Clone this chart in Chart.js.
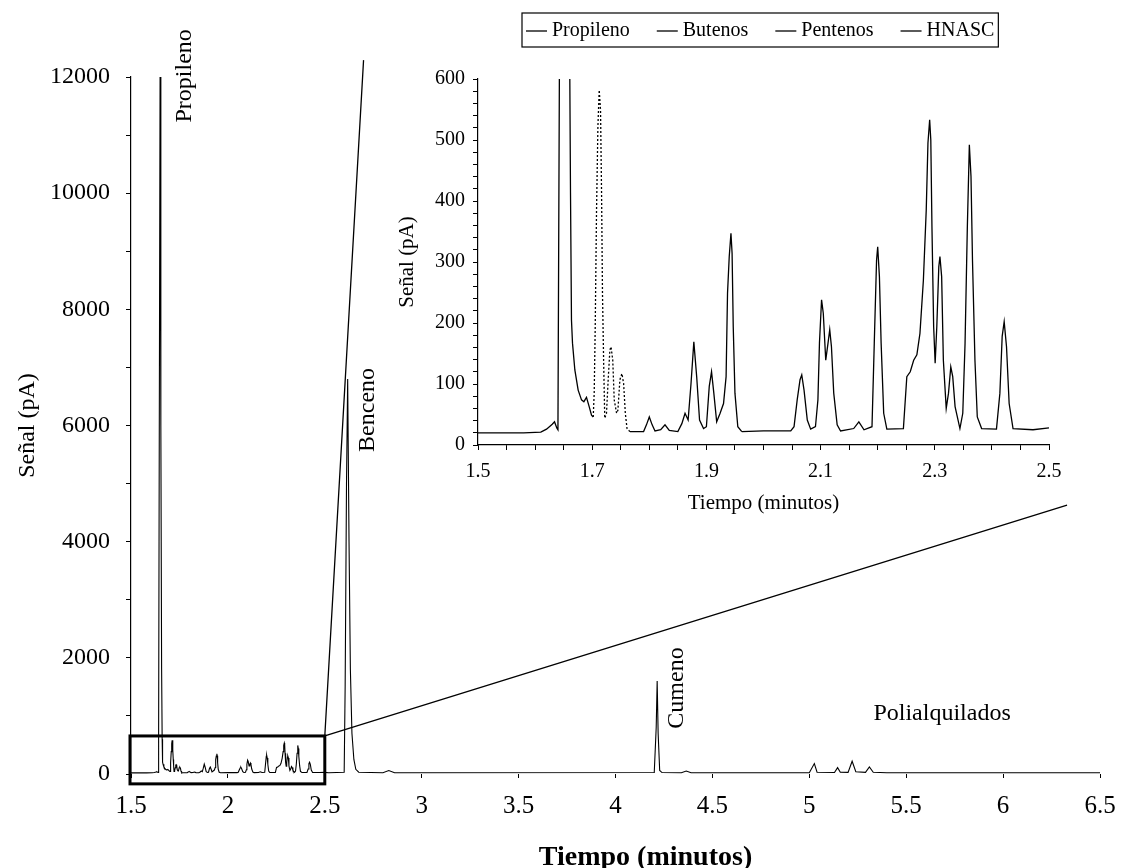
<!DOCTYPE html>
<html lang="es">
<head>
  <meta charset="UTF-8" />
  <title>Cromatograma</title>
  <script src="https://cdn.jsdelivr.net/npm/chart.js"></script>
  <style>
    * { margin: 0; padding: 0; box-sizing: border-box; }
    body { background: #fff; width: 1133px; height: 868px; overflow: hidden; }
    .lienzo { position: relative; width: 1133px; height: 868px; }
    #principal { position: absolute; left: 0; top: 0; }
    #detalle { position: absolute; left: 380px; top: 0; }
  </style>
</head>
<body>
  <div class="lienzo">
    <canvas id="principal" width="1133" height="868"></canvas>
    <canvas id="detalle" width="700" height="540"></canvas>
  </div>

  <script>
    const propilenoTiempo = [1.50, 1.58, 1.61, 1.62, 1.63, 1.634, 1.638, 1.640, 1.6425, 1.646, 1.650, 1.654, 1.658, 1.6608, 1.662, 1.6637, 1.6655, 1.6696, 1.6754, 1.6813, 1.6854, 1.690, 1.6947, 1.6988, 1.7018];
    const propilenoSenal = [20, 20, 21, 26, 34, 38, 28, 25, 600, 6000, 12000, 6000, 1800, 600, 413, 205, 167, 123, 90, 74, 71, 78, 63, 49, 46];

    const butenosTiempo = [1.7018, 1.7035, 1.7053, 1.7076, 1.710, 1.7123, 1.7146, 1.7164, 1.718, 1.720, 1.722, 1.725, 1.728, 1.731, 1.733, 1.736, 1.7386, 1.7427, 1.745, 1.7485, 1.752, 1.755, 1.758, 1.761, 1.766];
    const butenosSenal = [46, 85, 194, 385, 522, 582, 549, 413, 249, 139, 44, 52, 107, 156, 161, 139, 74, 52, 57, 107, 117, 101, 52, 27, 22];

    const pentenosTiempo = [1.766, 1.79, 1.795, 1.80, 1.805, 1.81, 1.82, 1.8275, 1.835, 1.85, 1.857, 1.8626, 1.868, 1.873, 1.878, 1.883, 1.888, 1.895, 1.90, 1.905, 1.909, 1.913, 1.918, 1.924, 1.93, 1.9345, 1.937, 1.940, 1.943, 1.945, 1.947, 1.950, 1.955, 1.962];
    const pentenosSenal = [22, 22, 33, 46, 33, 23, 25, 33, 24, 22, 35, 52, 41, 100, 169, 112, 41, 27, 30, 96, 120, 85, 38, 52, 68, 112, 249, 309, 347, 314, 194, 85, 30, 22];

    const hnascTiempo = [1.962, 2.0, 2.0477, 2.0535, 2.059, 2.064, 2.067, 2.071, 2.0767, 2.0826, 2.091, 2.0953, 2.098, 2.1017, 2.1047, 2.109, 2.113, 2.116, 2.119, 2.123, 2.129, 2.135, 2.158, 2.167, 2.176, 2.19, 2.194, 2.198, 2.20, 2.203, 2.206, 2.2105, 2.216, 2.245, 2.251, 2.257, 2.263, 2.2686, 2.274, 2.28, 2.285, 2.288, 2.291, 2.293, 2.295, 2.298, 2.3006, 2.3035, 2.307, 2.309, 2.312, 2.315, 2.32, 2.324, 2.328, 2.3314, 2.3355, 2.344, 2.349, 2.353, 2.357, 2.3605, 2.3634, 2.366, 2.3703, 2.3744, 2.382, 2.408, 2.414, 2.418, 2.4215, 2.4256, 2.4302, 2.437, 2.472, 2.5];
    const hnascSenal = [22, 23, 23, 30, 74, 107, 115, 90, 41, 26, 30, 74, 167, 238, 216, 139, 167, 189, 161, 85, 33, 23, 27, 38, 25, 30, 167, 303, 325, 276, 167, 52, 26, 27, 112, 120, 139, 148, 183, 270, 385, 495, 533, 500, 358, 194, 134, 194, 292, 309, 276, 139, 60, 85, 128, 112, 63, 27, 52, 167, 358, 492, 440, 303, 139, 46, 27, 26, 85, 178, 202, 161, 68, 27, 25, 28];

    // resto del cromatograma (benceno, cumeno, polialquilados)
    const restoTiempo = [2.52, 2.600, 2.605, 2.612, 2.618, 2.625, 2.632, 2.640, 2.650, 2.660, 2.675, 2.80, 2.83, 2.86, 4.20, 4.21, 4.215, 4.22, 4.228, 4.24, 4.34, 4.365, 4.39, 5.00, 5.026, 5.04, 5.13, 5.146, 5.16, 5.20, 5.221, 5.24, 5.29, 5.31, 5.33, 5.40, 6.50];
    const restoSenal = [22, 30, 1500, 5000, 6800, 4000, 1800, 700, 250, 80, 30, 22, 60, 22, 25, 800, 1600, 700, 60, 25, 22, 50, 22, 22, 180, 30, 25, 110, 30, 28, 220, 40, 28, 120, 30, 22, 22];

    const etiquetasPicos = ['Propileno', 'Benceno', 'Cumeno', 'Polialquilados'];
    const tituloTiempo = 'Tiempo (minutos)';

    const serif = 'Liberation Serif, Times New Roman, serif';
    const puntos = (t, s) => t.map((v, i) => ({ x: v, y: s[i] }));

    // --- cromatograma completo ---
    const todoTiempo = [].concat(propilenoTiempo, butenosTiempo.slice(1), pentenosTiempo.slice(1), hnascTiempo.slice(1), restoTiempo);
    const todoSenal = [].concat(propilenoSenal, butenosSenal.slice(1), pentenosSenal.slice(1), hnascSenal.slice(1), restoSenal);

    // posición de los rótulos (en unidades de los ejes)
    const rotulos = [
      { x: 1.779, y: 12020, giro: -90 },
      { x: 2.723, y: 6268, giro: -90 },
      { x: 4.317, y: 1481, giro: -90 },
      { x: 5.685, y: 1033, giro: 0 },
    ];

    const marcoZoom = {
      id: 'marcoZoom',
      afterDraw(chart) {
        const { ctx, scales: { x, y } } = chart;
        ctx.save();
        ctx.strokeStyle = '#000';
        // recuadro de la zona ampliada
        ctx.lineWidth = 3;
        const x0 = x.getPixelForValue(1.5), x1 = x.getPixelForValue(2.5);
        const y0 = y.getPixelForValue(-170), y1 = y.getPixelForValue(655);
        ctx.strokeRect(x0 - 1, y1, x1 - x0 + 1, y0 - y1);
        // líneas hacia el detalle
        ctx.lineWidth = 1.3;
        ctx.beginPath();
        ctx.moveTo(x1, y1);
        ctx.lineTo(x.getPixelForValue(2.70), y.getPixelForValue(12290));
        ctx.moveTo(x1, y1);
        ctx.lineTo(x.getPixelForValue(6.33), y.getPixelForValue(4630));
        ctx.stroke();
        // rótulos de los picos
        ctx.fillStyle = '#000';
        ctx.font = '24px ' + serif;
        ctx.textAlign = 'center';
        ctx.textBaseline = 'middle';
        rotulos.forEach((r, i) => {
          ctx.save();
          ctx.translate(x.getPixelForValue(r.x), y.getPixelForValue(r.y));
          ctx.rotate(r.giro * Math.PI / 180);
          ctx.fillText(etiquetasPicos[i], 0, 0);
          ctx.restore();
        });
        // título del eje x, algo desplazado a la derecha como en el original
        ctx.font = 'bold 28px ' + serif;
        ctx.textBaseline = 'alphabetic';
        ctx.fillText(tituloTiempo, x.getPixelForValue(4.155), chart.height - 3);
        ctx.restore();
      }
    };

    new Chart(document.getElementById('principal'), {
      type: 'line',
      data: {
        datasets: [{
          data: puntos(todoTiempo, todoSenal),
          borderColor: '#000',
          borderWidth: 1.1,
          pointRadius: 0,
          tension: 0,
        }],
      },
      options: {
        responsive: false,
        animation: false,
        devicePixelRatio: 1,
        layout: { padding: { top: 77, right: 33, left: 0, bottom: 0 } },
        plugins: { legend: { display: false }, tooltip: { enabled: false } },
        scales: {
          x: {
            type: 'linear',
            min: 1.5,
            max: 6.5,
            border: { display: false },
            grid: { drawOnChartArea: false, tickLength: 4, color: '#000' },
            ticks: {
              stepSize: 0.5,
              autoSkip: false,
              maxRotation: 0,
              padding: 13,
              color: '#000',
              font: { family: serif, size: 25 },
              callback: v => String(Math.round(v * 10) / 10),
            },
            afterFit: s => { s.height = 94; s.paddingLeft = 0; s.paddingRight = 0; },
          },
          y: {
            min: 0,
            max: 12000,
            border: { display: true, color: '#000', width: 1.2 },
            grid: { drawOnChartArea: false, tickLength: 5, color: '#000' },
            ticks: {
              stepSize: 1000,
              autoSkip: false,
              padding: 16,
              color: '#000',
              font: { family: serif, size: 24 },
              callback: v => (v % 2000 === 0 ? String(v) : ''),
            },
            title: {
              display: true,
              text: 'Señal (pA)',
              color: '#000',
              font: { family: serif, size: 24 },
              padding: { top: 13, bottom: 0 },
            },
            afterFit: s => { s.width = 131; s.paddingTop = 0; s.paddingBottom = 0; },
          },
        },
      },
      plugins: [marcoZoom],
    });

    // --- detalle 1.5 - 2.5 min ---
    const leyendaMarco = {
      id: 'leyendaMarco',
      afterDraw(chart) {
        const { ctx } = chart;
        const sets = chart.data.datasets;
        ctx.save();
        ctx.font = '20px ' + serif;
        ctx.textBaseline = 'middle';
        ctx.fillStyle = '#000';
        ctx.strokeStyle = '#000';
        const raya = 21, hueco = 5, sep = 27, margen = 4;
        let ancho = margen * 2;
        sets.forEach((d, i) => {
          ancho += raya + hueco + ctx.measureText(d.label).width + (i ? sep : 0);
        });
        const izq = 142, arriba = 13, alto = 34;
        ctx.lineWidth = 1.2;
        ctx.strokeRect(izq, arriba, ancho, alto);
        let cx = izq + margen;
        const cy = arriba + alto / 2 + 1;
        sets.forEach((d, i) => {
          if (i) cx += sep;
          ctx.lineWidth = 1.3;
          ctx.beginPath();
          ctx.moveTo(cx, cy);
          ctx.lineTo(cx + raya, cy);
          ctx.stroke();
          cx += raya + hueco;
          ctx.fillText(d.label, cx, cy);
          cx += ctx.measureText(d.label).width;
        });
        ctx.restore();
      }
    };

    const serie = (label, t, s, dash) => ({
      label,
      data: puntos(t, s),
      borderColor: '#000',
      borderWidth: 1.3,
      borderDash: dash,
      pointRadius: 0,
      tension: 0,
    });

    new Chart(document.getElementById('detalle'), {
      type: 'line',
      data: {
        datasets: [
          serie('Propileno', propilenoTiempo, propilenoSenal, []),
          serie('Butenos', butenosTiempo, butenosSenal, [2, 2]),
          serie('Pentenos', pentenosTiempo, pentenosSenal, []),
          serie('HNASC', hnascTiempo, hnascSenal, []),
        ],
      },
      options: {
        responsive: false,
        animation: false,
        devicePixelRatio: 1,
        layout: { padding: { top: 79, right: 31, left: 0, bottom: 0 } },
        plugins: { legend: { display: false }, tooltip: { enabled: false } },
        scales: {
          x: {
            type: 'linear',
            min: 1.5,
            max: 2.5,
            border: { display: true, color: '#000', width: 1.2 },
            grid: { drawOnChartArea: false, tickLength: 5, color: '#000' },
            ticks: {
              stepSize: 0.05,
              autoSkip: false,
              maxRotation: 0,
              padding: 10,
              color: '#000',
              font: { family: serif, size: 20 },
              callback: v => {
                const k = Math.round(v * 100);
                return (k - 150) % 20 === 0 ? (k / 100).toFixed(1) : '';
              },
            },
            title: {
              display: true,
              text: tituloTiempo,
              color: '#000',
              font: { family: serif, size: 21 },
              padding: { top: 0, bottom: 24 },
            },
            afterFit: s => { s.height = 95; s.paddingLeft = 0; s.paddingRight = 0; },
          },
          y: {
            min: 0,
            max: 600,
            border: { display: true, color: '#000', width: 1.2 },
            grid: { drawOnChartArea: false, tickLength: 5, color: '#000' },
            ticks: {
              stepSize: 20,
              autoSkip: false,
              padding: 8,
              color: '#000',
              font: { family: serif, size: 20 },
              callback: v => (Math.round(v) % 100 === 0 ? String(Math.round(v)) : ''),
            },
            title: {
              display: true,
              text: 'Señal (pA)',
              color: '#000',
              font: { family: serif, size: 21 },
              padding: { top: 15, bottom: 0 },
            },
            afterFit: s => { s.width = 98; s.paddingTop = 0; s.paddingBottom = 0; },
          },
        },
      },
      plugins: [leyendaMarco],
    });
  </script>
</body>
</html>
